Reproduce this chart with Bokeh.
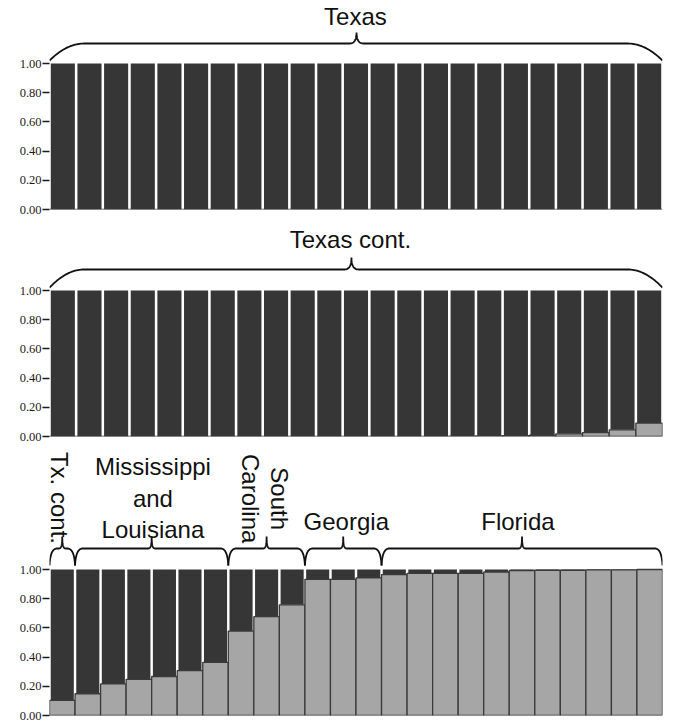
import numpy as np
from bokeh.plotting import figure
from bokeh.layouts import column
from bokeh.models import FixedTicker, PrintfTickFormatter, ColumnDataSource
from bokeh.core.properties import value
from bokeh.embed import file_html
from bokeh.resources import INLINE

# Membership proportion of the light (gray) cluster for each individual.
texas_q = [0.0, 0.0, 0.0, 0.0, 0.0, 0.0, 0.0, 0.0, 0.0, 0.0, 0.0, 0.0,
           0.0, 0.0, 0.0, 0.0, 0.0, 0.0, 0.0, 0.0, 0.0, 0.0, 0.0]
texas_cont_q = [0.0, 0.0, 0.0, 0.0, 0.0, 0.0, 0.0, 0.0, 0.0, 0.0, 0.0, 0.0,
                0.0, 0.0, 0.0, 0.002, 0.004, 0.006, 0.009, 0.018, 0.027,
                0.046, 0.092]
southeast_q = [0.103, 0.149, 0.216, 0.248, 0.267, 0.308, 0.364,
               0.578, 0.677, 0.758,
               0.933, 0.933, 0.942,
               0.965, 0.974, 0.974, 0.974, 0.983, 0.993, 0.995, 0.995,
               0.997, 0.997, 1.0]

# Region groups of the last panel: (first bar, last bar + 1)
southeast_groups = [(0, 1), (1, 7), (7, 10), (10, 13), (13, 24)]

y_ticks = [0.0, 0.2, 0.4, 0.6, 0.8, 1.0]

DARK = "#363636"
GRAY = "#a6a6a6"
INK = "#111111"
PX_PER_UNIT = 146.0


def make_panel(q, height, border_left, border_right, border_bottom, frame_px):
    n = len(q)
    p = figure(width=688, height=height, x_range=(0, n),
               y_range=(0, frame_px / PX_PER_UNIT),
               output_backend="svg", toolbar_location=None,
               x_axis_location=None,
               min_border_left=border_left, min_border_right=border_right,
               min_border_top=0, min_border_bottom=border_bottom)
    p.outline_line_color = None
    p.grid.visible = False
    p.background_fill_color = "white"
    p.border_fill_color = "white"

    ax = p.yaxis[0]
    ax.ticker = FixedTicker(ticks=y_ticks, minor_ticks=[])
    ax.formatter = PrintfTickFormatter(format="%.2f")
    ax.axis_line_color = None
    ax.major_tick_out = 7
    ax.major_tick_in = 0
    ax.major_tick_line_color = "#1a1a1a"
    ax.major_tick_line_width = 1.5
    ax.minor_tick_line_color = None
    ax.major_label_text_font = "Liberation Serif"
    ax.major_label_text_font_size = "12.5px"
    ax.major_label_text_color = "#1a1a1a"
    ax.major_label_standoff = 1

    idx = np.arange(n)
    qa = np.array(q)
    inset = 0.048
    dark = ColumnDataSource(dict(left=idx + inset, right=idx + 1 - inset,
                                 bottom=qa, top=np.ones(n)))
    p.quad(left="left", right="right", bottom="bottom", top="top",
           source=dark, fill_color=DARK, line_color=None)
    gray = ColumnDataSource(dict(left=idx.astype(float), right=idx + 1.0,
                                 bottom=np.zeros(n), top=qa))
    p.quad(left="left", right="right", bottom="bottom", top="top",
           source=gray, fill_color=GRAY, line_color="#3a3a3a", line_width=1.3)
    return p


def bezier(p0, p1, p2, steps=24):
    t = np.linspace(0, 1, steps)
    x = (1 - t) ** 2 * p0[0] + 2 * (1 - t) * t * p1[0] + t ** 2 * p2[0]
    y = (1 - t) ** 2 * p0[1] + 2 * (1 - t) * t * p1[1] + t ** 2 * p2[1]
    return list(x), list(y)


def brace(p, x0, x1, xc, yb, yl, yt, edx, tdx, k):
    xs, ys = [], []
    for seg in (
        bezier((x0, yb), (x0 + k * edx, yl), (x0 + edx, yl)),
        bezier((xc - tdx, yl), (xc, yl), (xc, yt)),
        bezier((xc, yt), (xc, yl), (xc + tdx, yl)),
        bezier((x1 - edx, yl), (x1 - k * edx, yl), (x1, yb)),
    ):
        xs += seg[0]
        ys += seg[1]
    p.line(xs, ys, line_color=INK, line_width=1.8)


def label(p, x, y, txt, angle=0.0):
    p.text(x=[x], y=[y], text=[txt], angle=angle,
           text_font=value("Liberation Sans"), text_font_size="24px",
           text_color=INK, text_align="center", text_baseline="middle")


# Panel 1: Texas
p1 = make_panel(texas_q, 221, 49, 26, 12, 209)
brace(p1, 0, 23, 11.52, 1.02, 1.137, 1.212, 1.3, 0.26, 0.5)
label(p1, 11.48, 1.32, "Texas")

# Panel 2: Texas continued
p2 = make_panel(texas_cont_q, 222, 49, 26, 7, 215)
brace(p2, 0, 23, 11.33, 1.02, 1.144, 1.226, 1.3, 0.26, 0.5)
label(p2, 11.29, 1.35, "Texas cont.")

# Panel 3: remaining regions
p3 = make_panel(southeast_q, 280, 42, 6, 8, 272)
for a, b in southeast_groups:
    brace(p3, a, b, (a + b) / 2.0, 1.027, 1.144, 1.226, 0.3, 0.12, 0.1)
label(p3, 0.4, 1.49, "Tx. cont.", angle=-np.pi / 2)
label(p3, 4.05, 1.705, "Mississippi")
label(p3, 4.05, 1.486, "and")
label(p3, 4.05, 1.274, "Louisiana")
label(p3, 7.85, 1.485, "Carolina", angle=-np.pi / 2)
label(p3, 9.02, 1.485, "South", angle=-np.pi / 2)
label(p3, 11.62, 1.33, "Georgia")
label(p3, 18.34, 1.33, "Florida")

layout = column(p1, p2, p3)
open("out.html", "w").write(file_html(layout, INLINE))
